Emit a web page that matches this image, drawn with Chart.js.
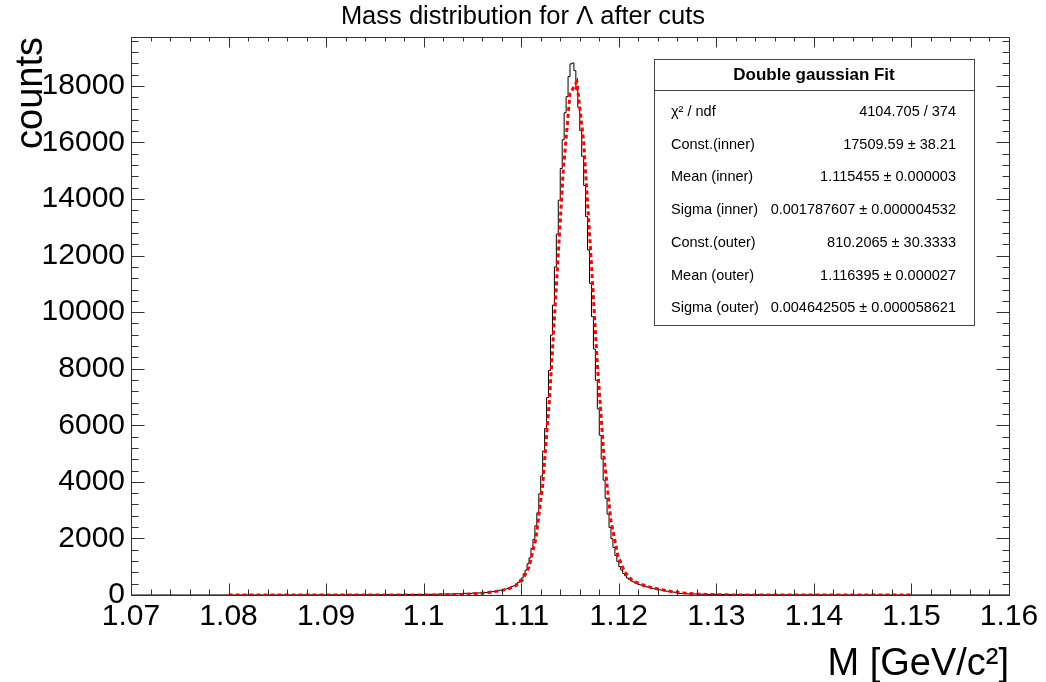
<!DOCTYPE html>
<html>
<head>
<meta charset="utf-8">
<script src="https://cdn.jsdelivr.net/npm/chart.js@4/dist/chart.umd.min.js"></script>
<style>
  html, body { margin: 0; padding: 0; background: #fff; }
  #wrap { width: 1046px; height: 682px; }
</style>
</head>
<body>
<div id="wrap"><canvas id="mass"></canvas></div>
<script>
'use strict';

var FONT = "'Liberation Sans', Arial, Helvetica, sans-serif";

// axis ticks
var xTicks = [1.07, 1.08, 1.09, 1.10, 1.11, 1.12, 1.13, 1.14, 1.15, 1.16];
var yTicks = [0, 2000, 4000, 6000, 8000, 10000, 12000, 14000, 16000, 18000];
var yMax = 19730;

// invariant mass histogram, counts per 0.2 MeV bin
// tails are stored in 1 MeV steps, the peak region in 0.2 MeV steps
var leftTailLow = 1.070;
var leftTail = [
  0, 0, 1, 0, 1, 1, 0, 2, 1, 1,
  2, 1, 3, 2, 2, 3, 4, 3, 5, 4,
  5, 6, 5, 7, 8, 8, 10, 11, 13, 15,
  18, 22, 27, 35, 44, 58
];
var coreLow = 1.106;
var core = [
  72, 74, 88, 90, 103, 106, 121, 127, 143, 150,
  171, 180, 204, 215, 246, 262, 305, 330, 392, 436,
  531, 604, 752, 879, 1102, 1310, 1645, 1960, 2446, 2905,
  3580, 4205, 5090, 5890, 6980, 7940, 9190, 10250, 11600, 12760,
  13960, 15080, 16100, 17050, 17620, 18330, 18780, 18810, 18540, 17860,
  17240, 16420, 15510, 14480, 13380, 12200, 11020, 9840, 8700, 7590,
  6580, 5650, 4810, 4060, 3420, 2860, 2390, 1990, 1680, 1395,
  1190, 1005, 880, 758, 680, 598, 552, 495, 466, 421,
  402, 366, 352, 322, 310, 283, 272, 248, 238, 216,
  207, 187, 179, 160, 154, 137, 131, 116, 111, 98
];
var rightTailLow = 1.126;
var rightTail = [
  82, 55, 38, 27, 20, 16, 13, 12, 10, 9,
  8, 7, 7, 6, 5, 5, 4, 4, 3, 3,
  3, 2, 3, 2, 2, 1, 2, 1, 1, 1,
  0, 1, 0, 1
];
var coreBin = 0.0002;
var tailBin = 0.001;
var histHigh = 1.16;

// double gaussian fit result: [inner, outer]
var fitConst = [17509.59, 810.2065];
var fitConstErr = [38.21, 30.3333];
var fitMean = [1.115455, 1.116395];
var fitMeanErr = [0.000003, 0.000027];
var fitSigma = [0.001787607, 0.004642505];
var fitSigmaErr = [0.000004532, 0.000058621];
var fitChi2 = 4104.705;
var fitNdf = 374;
var fitRange = [1.08, 1.15];
var fitNpx = 100;

function histPoints() {
  var pts = [];
  leftTail.forEach(function(c, i) { pts.push({x: leftTailLow + i * tailBin, y: c}); });
  core.forEach(function(c, i) { pts.push({x: coreLow + i * coreBin, y: c}); });
  rightTail.forEach(function(c, i) { pts.push({x: rightTailLow + i * tailBin, y: c}); });
  pts.push({x: histHigh, y: rightTail[rightTail.length - 1]});
  return pts;
}

function doubleGaus(x) {
  var s = 0;
  for (var k = 0; k < 2; k++) {
    var u = (x - fitMean[k]) / fitSigma[k];
    s += fitConst[k] * Math.exp(-0.5 * u * u);
  }
  return s;
}

// the fit function is drawn as a polyline through npx samples of its range
function fitPoints() {
  var pts = [];
  for (var i = 0; i <= fitNpx; i++) {
    var x = fitRange[0] + (fitRange[1] - fitRange[0]) * i / fitNpx;
    pts.push({x: x, y: doubleGaus(x)});
  }
  return pts;
}

function pm(v, e) { return v + ' \u00b1 ' + e; }

var statsRows = [
  ['\u03c7\u00b2 / ndf', fitChi2 + ' / ' + fitNdf],
  ['Const.(inner)', pm(fitConst[0], fitConstErr[0])],
  ['Mean (inner)', pm(fitMean[0], fitMeanErr[0])],
  ['Sigma (inner)', pm(fitSigma[0], fitSigmaErr[0])],
  ['Const.(outer)', pm(fitConst[1], fitConstErr[1])],
  ['Mean (outer)', pm(fitMean[1], fitMeanErr[1])],
  ['Sigma (outer)', pm(fitSigma[1], fitSigmaErr[1])]
];

// minor ticks: 5 divisions per major interval
function minorValues(majors, max) {
  var step = (majors[1] - majors[0]) / 5;
  var out = [];
  for (var v = majors[0]; v <= max + step * 1e-6; v += step) out.push(v);
  return out;
}

// frame with inward ticks on all four sides
var rootFrame = {
  id: 'rootFrame',
  afterDatasetsDraw: function(chart) {
    var ctx = chart.ctx, a = chart.chartArea;
    var xs = chart.scales.x, ys = chart.scales.y;
    var L = Math.floor(a.left) + 0.5, R = Math.floor(a.right) + 0.5;
    var T = Math.floor(a.top) + 0.5, B = Math.floor(a.bottom) + 0.5;
    ctx.save();
    ctx.strokeStyle = '#333';
    ctx.lineWidth = 1;
    ctx.beginPath();
    ctx.rect(L, T, R - L, B - T);

    var xMinor = minorValues(xTicks, xs.max);
    xMinor.forEach(function(v, i) {
      var len = (i % 5 === 0) ? 12 : 6;
      var px = Math.round(xs.getPixelForValue(v)) + 0.5;
      ctx.moveTo(px, B); ctx.lineTo(px, B - len);
      ctx.moveTo(px, T); ctx.lineTo(px, T + len - 2);
    });
    var yMinor = minorValues(yTicks, ys.max);
    yMinor.forEach(function(v, i) {
      var len = (i % 5 === 0) ? 13 : 7;
      var py = Math.round(ys.getPixelForValue(v)) + 0.5;
      ctx.moveTo(L, py); ctx.lineTo(L + len, py);
      ctx.moveTo(R, py); ctx.lineTo(R - len, py);
    });
    ctx.stroke();
    ctx.restore();
  }
};

// fit statistics box
var statsBox = {
  id: 'statsBox',
  afterDraw: function(chart) {
    var ctx = chart.ctx;
    var box = {left: 654, top: 59, right: 974, bottom: 325, header: 90, row0: 112, rowStep: 32.7};
    ctx.save();
    ctx.fillStyle = '#fff';
    ctx.fillRect(box.left, box.top, box.right - box.left, box.bottom - box.top);
    ctx.strokeStyle = '#444';
    ctx.lineWidth = 1;
    ctx.strokeRect(box.left + 0.5, box.top + 0.5, box.right - box.left, box.bottom - box.top);
    ctx.beginPath();
    ctx.moveTo(box.left, box.header + 0.5);
    ctx.lineTo(box.right, box.header + 0.5);
    ctx.stroke();

    ctx.fillStyle = '#000';
    ctx.textBaseline = 'middle';
    ctx.font = 'bold 17px ' + FONT;
    ctx.textAlign = 'center';
    ctx.fillText('Double gaussian Fit', (box.left + box.right) / 2, (box.top + box.header) / 2 + 1);

    ctx.font = '14.5px ' + FONT;
    statsRows.forEach(function(r, i) {
      var y = box.row0 + i * box.rowStep;
      ctx.textAlign = 'left';
      ctx.fillText(r[0], box.left + 17, y);
      ctx.textAlign = 'right';
      ctx.fillText(r[1], box.right - 18, y);
    });
    ctx.restore();
  }
};

new Chart(document.getElementById('mass').getContext('2d'), {
  type: 'line',
  data: {
    datasets: [
      {
        label: 'fit',
        data: fitPoints(),
        borderColor: '#ff0000',
        borderWidth: 3,
        borderDash: [4, 3],
        pointRadius: 0,
        fill: false,
        order: 0
      },
      {
        label: 'hist',
        data: histPoints(),
        stepped: 'after',
        borderColor: '#000',
        borderWidth: 1,
        pointRadius: 0,
        fill: false,
        order: 1
      }
    ]
  },
  options: {
    responsive: true,
    maintainAspectRatio: false,
    animation: false,
    devicePixelRatio: 1,
    layout: { padding: 0 },
    plugins: {
      legend: { display: false },
      tooltip: { enabled: false },
      title: {
        display: true,
        text: 'Mass distribution for \u039b after cuts',
        color: '#000',
        font: { family: FONT, size: 25.5, weight: 'normal', lineHeight: 1.2 },
        padding: { top: 2, bottom: 4.4 }
      }
    },
    scales: {
      x: {
        type: 'linear',
        min: 1.07,
        max: 1.16,
        afterBuildTicks: function(s) { s.ticks = xTicks.map(function(v) { return {value: v}; }); },
        afterFit: function(s) { s.height = 87; },
        grid: { display: false, drawTicks: false, tickLength: 0 },
        border: { display: false },
        ticks: {
          color: '#000',
          font: { family: FONT, size: 30 },
          padding: 4,
          maxRotation: 0,
          autoSkip: false,
          callback: function(v) { return String(Number(v.toFixed(2))); }
        },
        title: {
          display: true,
          text: 'M [GeV/c\u00b2]',
          align: 'end',
          color: '#000',
          font: { family: FONT, size: 38, lineHeight: 1 },
          padding: { top: 0, bottom: -2 }
        }
      },
      y: {
        type: 'linear',
        min: 0,
        max: yMax,
        afterBuildTicks: function(s) { s.ticks = yTicks.map(function(v) { return {value: v}; }); },
        afterFit: function(s) { s.width = 131; },
        grid: { display: false, drawTicks: false, tickLength: 0 },
        border: { display: false },
        ticks: {
          color: '#000',
          font: { family: FONT, size: 30 },
          padding: 6,
          autoSkip: false,
          callback: function(v) { return String(v); }
        },
        title: {
          display: true,
          text: 'counts',
          align: 'end',
          color: '#000',
          font: { family: FONT, size: 38, lineHeight: 1 },
          padding: { top: 13, bottom: 0 }
        }
      },
      // empty right margin axis so the title centres on the whole canvas
      yRight: {
        type: 'linear',
        position: 'right',
        display: true,
        afterFit: function(s) { s.width = 37; },
        grid: { display: false, drawTicks: false },
        border: { display: false },
        ticks: { display: false }
      }
    }
  },
  plugins: [rootFrame, statsBox]
});
</script>
</body>
</html>
